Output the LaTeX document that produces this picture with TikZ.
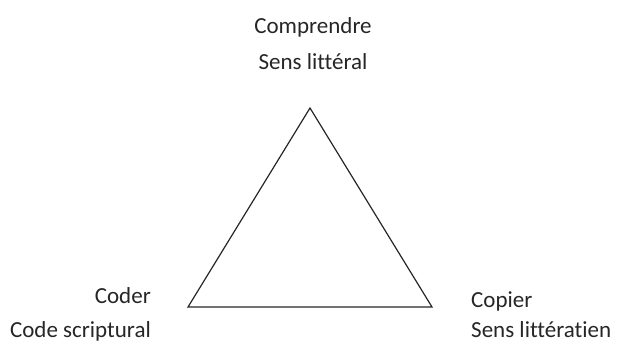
\documentclass[tikz,border=0pt]{standalone}
\usepackage{fontspec}
\setmainfont[Ligatures=NoCommon]{Carlito}
\begin{document}
\begin{tikzpicture}[x=1pt,y=-1pt,
  lbl/.style={inner sep=0pt,font=\fontsize{23}{28}\selectfont,text=black!85},
  edge/.style={draw=black!85,line width=1.2pt,line join=miter}]
\useasboundingbox (0,0) rectangle (617,343);
\coordinate (A) at (310,108);
\coordinate (B) at (188,307);
\coordinate (C) at (432,307);
\draw[edge] (A) -- (B) -- (C) -- cycle;
\node[lbl,anchor=base] (t1) at (313,33) {Comprendre};
\node[lbl,anchor=base] (t2) at (313,69) {Sens littéral};
\node[lbl,anchor=base east] (l1) at (151,303) {Coder};
\node[lbl,anchor=base east] (l2) at (151,337) {Code scriptural};
\node[lbl,anchor=base west] (r1) at (471,307) {Copier};
\node[lbl,anchor=base west] (r2) at (471,337) {Sens littératien};
\end{tikzpicture}
\end{document}
